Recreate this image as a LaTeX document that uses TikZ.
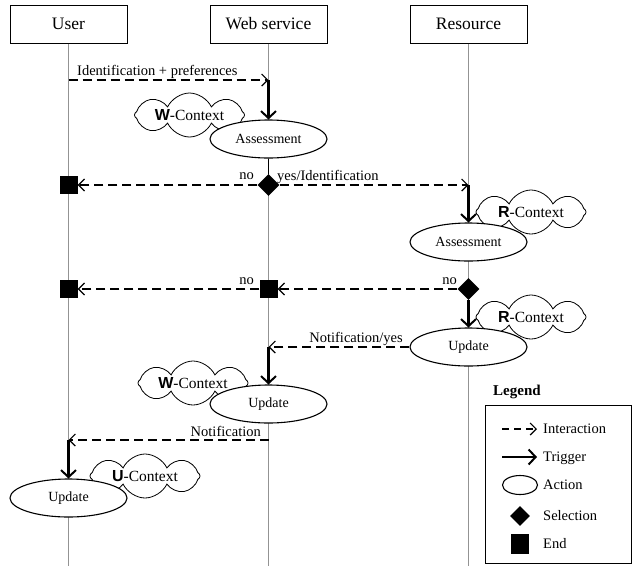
\documentclass[tikz,border=0pt]{standalone}
\usepackage{fontspec}
\setmainfont{Liberation Serif}
\newfontfamily\ctxfont{Liberation Sans}
\newcommand\ctxb[1]{{\ctxfont\bfseries\fontsize{16}{16}\selectfont #1}}
\usetikzlibrary{shapes.geometric,shapes.symbols,arrows.meta}
\begin{document}
\begin{tikzpicture}[x=1pt,y=-1pt,
  hdr/.style={draw,line width=1pt,minimum width=117pt,minimum height=38pt,inner sep=0pt,font=\fontsize{17.5}{19}\selectfont},
  life/.style={draw=gray!85,line width=1.4pt},
  act/.style={ellipse,draw,line width=1.1pt,fill=white,minimum width=117pt,minimum height=38pt,inner sep=0pt,font=\fontsize{14}{15}\selectfont},
  ctx/.style={cloud,draw,line width=0.8pt,fill=white,cloud puffs=8,cloud puff arc=130,minimum width=110pt,minimum height=44pt,inner sep=0pt},
  ctxt/.style={inner sep=0pt,font=\fontsize{15.5}{16}\selectfont},
  inter/.style={line width=1.4pt,dash pattern=on 9pt off 5pt,-{Straight Barb[length=6pt,width=12pt,line width=1.2pt]}},
  trig/.style={line width=2.4pt,-{Straight Barb[length=7pt,width=15pt,line width=2pt]}},
  sel/.style={diamond,fill=black,minimum size=22pt,inner sep=0pt},
  fin/.style={rectangle,fill=black,minimum size=18pt,inner sep=0pt},
  lbl/.style={font=\fontsize{14.5}{16}\selectfont,inner sep=0pt}
]
\useasboundingbox (0,0) rectangle (632,566);
% headers
\node[hdr] (hU) at (68.5,24) {User};
\node[hdr] (hW) at (268.5,24) {Web service};
\node[hdr] (hR) at (468.5,24) {Resource};
\coordinate (eU) at (68.5,566);
\coordinate (eW) at (268.5,566);
\coordinate (eR) at (468.5,566);
\draw[life] (hU.south) -- (eU);
\draw[life] (hW.south) -- (eW);
\draw[life] (hR.south) -- (eR);
% clouds
\node[ctx] (c1) at (189.5,115) {};
\node[ctx] (c2) at (531,212) {};
\node[ctx] (c3) at (531,317) {};
\node[ctx] (c4) at (193,383) {};
\node[ctx] (c5) at (145,476) {};
\node[ctxt] (ct1) at (c1) {\ctxb{W}-Context};
\node[ctxt] (ct2) at (c2) {\ctxb{R}-Context};
\node[ctxt] (ct3) at (c3) {\ctxb{R}-Context};
\node[ctxt] (ct4) at (c4) {\ctxb{W}-Context};
\node[ctxt] (ct5) at (c5) {\ctxb{U}-Context};
% actions
\node[act] (wA) at (268.5,139) {Assessment};
\node[act] (rA) at (468.5,242) {Assessment};
\node[act] (rU) at (468.5,347) {Update};
\node[act] (wU) at (268.5,404) {Update};
\node[act] (uU) at (68.5,498) {Update};
% selections and ends
\node[sel] (s1) at (268.5,185) {};
\node[sel] (s2) at (468.5,289) {};
\node[fin] (f1) at (68.5,185) {};
\node[fin] (f2) at (68.5,289) {};
\node[fin] (f3) at (268.5,289) {};
\draw[line width=1.2pt] (wA.south) -- (s1.north);
% coordinates
\coordinate (u1) at (68.5,80);
\coordinate (w1) at (268.5,80);
\coordinate (r1) at (468.5,185);
\coordinate (w2) at (268.5,347);
\coordinate (w3) at (268.5,440);
\coordinate (u3) at (68.5,440);
% interactions
\draw[inter] (u1) -- (w1);
\node[lbl,anchor=base west] (l1) at (77,75) {Identification + preferences};
\draw[trig] (w1) -- (wA.north);
\draw[inter] (s1.west) -- (f1.east);
\node[lbl,anchor=base east] (l2) at (254,179) {no};
\draw[inter] (s1.east) -- (r1);
\node[lbl,anchor=base west] (l3) at (277,180) {yes/Identification};
\draw[trig] (r1) -- (rA.north);
\draw[inter] (s2.west) -- (f3.east);
\node[lbl,anchor=base east] (l4) at (457,284) {no};
\draw[inter] (f3.west) -- (f2.east);
\node[lbl,anchor=base east] (l5) at (254,284) {no};
\draw[trig] (s2.south) -- (rU.north);
\draw[inter] (rU.west) -- (w2);
\node[lbl,anchor=base east] (l6) at (403,342) {Notification/yes};
\draw[trig] (w2) -- (wU.north);
\draw[inter] (w3) -- (u3);
\node[lbl,anchor=base east] (l7) at (261,436) {Notification};
\draw[trig] (u3) -- (uU.north);
% legend
\node[font=\bfseries\fontsize{15}{16}\selectfont,anchor=base west,inner sep=0pt] (lg) at (493,395) {Legend};
\draw[line width=1pt] (485,405) rectangle (631.5,563);
\coordinate (la1) at (502,429); \coordinate (lb1) at (537,429);
\draw[inter,dash pattern=on 7pt off 5pt] (la1) -- (lb1);
\node[lbl,anchor=base west] (t1) at (543,433) {Interaction};
\coordinate (la2) at (502,457); \coordinate (lb2) at (537,457);
\draw[trig] (la2) -- (lb2);
\node[lbl,anchor=base west] (t2) at (543,461) {Trigger};
\node[ellipse,draw,line width=1.1pt,minimum width=35pt,minimum height=19pt,inner sep=0pt] (le) at (520,485) {};
\node[lbl,anchor=base west] (t3) at (543,489) {Action};
\node[sel,minimum size=20pt] (ls) at (520,516) {};
\node[lbl,anchor=base west] (t4) at (543,520) {Selection};
\node[fin,minimum width=18pt,minimum height=20pt] (lf) at (520,544) {};
\node[lbl,anchor=base west] (t5) at (543,548) {End};
\end{tikzpicture}
\end{document}
